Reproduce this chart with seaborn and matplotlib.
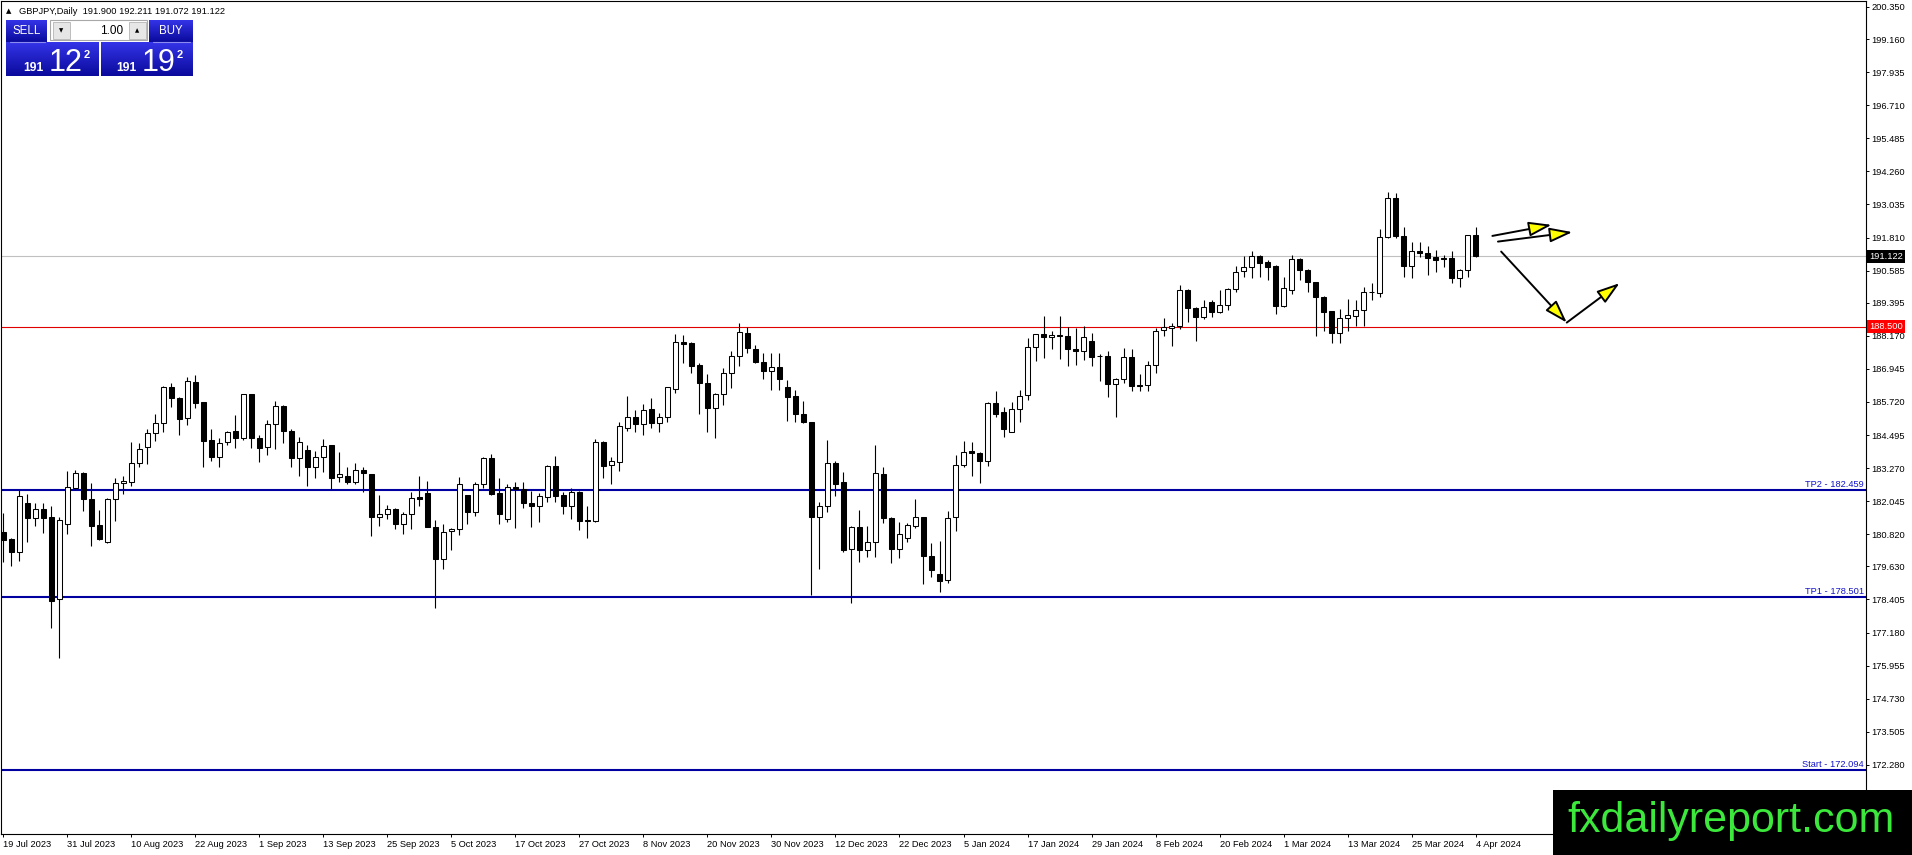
import numpy as np
import pandas as pd
import matplotlib
matplotlib.use("Agg")
import matplotlib.pyplot as plt
from matplotlib.patches import Rectangle
from matplotlib.colors import LinearSegmentedColormap
import seaborn as sns

# daily GBPJPY bars, 19 Jul 2023 .. 4 Apr 2024
opens = [
    180.92, 180.65, 180.18, 181.97, 181.44, 181.75, 181.45, 178.41, 181.19, 182.55,
    183.08, 182.12, 181.17, 180.55, 182.12, 182.71, 182.75, 183.45, 184.07, 184.56,
    184.93, 186.27, 185.86, 185.12, 186.45, 185.71, 184.32, 183.70, 184.22, 184.64,
    184.40, 186.01, 184.38, 184.07, 184.90, 185.57, 184.64, 183.66, 183.94, 183.33,
    183.67, 184.13, 182.93, 182.97, 182.75, 183.20, 183.04, 181.45, 181.56, 181.76,
    181.19, 181.56, 182.19, 182.34, 181.08, 179.90, 180.94, 181.01, 182.27, 181.66,
    182.67, 183.64, 182.34, 181.39, 182.56, 182.49, 181.97, 181.86, 182.19, 183.35,
    182.28, 181.88, 182.39, 181.34, 181.33, 184.22, 183.39, 183.51, 184.75, 185.18,
    184.90, 185.45, 184.93, 185.18, 186.20, 187.93, 187.91, 187.09, 186.41, 185.48,
    186.01, 186.78, 187.44, 188.27, 187.67, 187.19, 186.85, 187.03, 186.27, 185.95,
    185.27, 184.97, 181.45, 181.85, 183.45, 182.75, 180.27, 181.08, 180.24, 180.53,
    183.06, 181.43, 180.27, 180.70, 181.14, 181.45, 180.02, 179.35, 179.13, 181.45,
    183.39, 183.91, 183.82, 183.55, 185.67, 185.34, 184.62, 185.45, 185.96, 187.77,
    188.23, 188.12, 188.18, 188.17, 187.69, 187.60, 187.98, 187.44, 187.43, 186.38,
    186.56, 187.38, 186.35, 186.35, 187.09, 188.39, 188.45, 188.55, 189.85, 189.19,
    188.88, 189.44, 189.04, 189.32, 189.90, 190.57, 190.73, 191.13, 190.91, 190.76,
    189.29, 189.87, 191.02, 190.61, 190.15, 189.60, 189.09, 188.27, 188.82, 188.92,
    189.11, 189.81, 189.77, 191.82, 193.27, 191.87, 190.76, 191.32, 191.23, 191.08,
    191.04, 191.04, 190.30, 190.61, 191.900,
]
highs = [
    181.60, 180.67, 182.46, 182.32, 181.97, 181.97, 181.88, 181.45, 183.17, 183.20,
    183.11, 182.71, 181.72, 182.15, 182.90, 182.96, 184.22, 184.19, 184.71, 185.28,
    186.32, 186.41, 185.92, 186.66, 186.72, 185.71, 184.71, 184.38, 184.64, 185.24,
    186.01, 186.01, 184.50, 185.06, 185.76, 185.61, 184.71, 184.41, 184.13, 183.92,
    184.35, 184.13, 183.88, 183.30, 183.45, 183.33, 183.04, 182.28, 181.91, 181.81,
    181.64, 182.40, 182.98, 182.80, 181.34, 181.19, 181.04, 182.93, 182.27, 182.77,
    183.70, 183.78, 182.89, 182.69, 182.77, 182.77, 182.44, 182.34, 183.39, 183.72,
    182.40, 182.52, 182.43, 181.85, 184.35, 184.28, 183.70, 184.96, 185.95, 185.43,
    185.64, 185.86, 185.30, 186.27, 188.24, 188.20, 187.93, 187.15, 186.76, 186.04,
    186.97, 187.61, 188.64, 188.49, 187.83, 187.53, 187.53, 187.53, 186.54, 186.17,
    185.77, 184.99, 182.01, 184.32, 183.55, 183.12, 181.13, 181.72, 181.13, 184.13,
    183.33, 181.45, 181.27, 181.23, 182.13, 181.45, 180.49, 180.57, 181.69, 183.76,
    184.28, 184.22, 183.88, 185.73, 186.13, 185.55, 185.71, 186.17, 188.08, 188.23,
    188.91, 188.35, 188.91, 188.48, 188.45, 188.54, 188.27, 187.50, 187.59, 186.60,
    187.73, 187.69, 186.76, 187.24, 188.45, 188.82, 188.66, 190.06, 189.90, 189.25,
    189.50, 189.48, 189.87, 189.93, 190.77, 191.13, 191.32, 191.17, 190.98, 190.80,
    190.36, 191.17, 191.07, 190.65, 190.18, 189.65, 189.09, 189.15, 189.54, 189.50,
    189.99, 190.12, 192.12, 193.49, 193.45, 192.19, 191.66, 191.66, 191.48, 191.33,
    191.17, 191.32, 190.64, 191.90, 192.211,
]
lows = [
    179.81, 179.66, 179.83, 180.55, 181.11, 180.86, 177.36, 176.25, 180.82, 182.46,
    181.70, 180.40, 180.59, 180.51, 181.33, 182.32, 182.61, 183.33, 183.41, 184.29,
    184.62, 185.53, 184.51, 184.87, 185.49, 183.33, 183.55, 183.30, 184.12, 184.01,
    184.32, 184.03, 183.49, 183.76, 183.97, 184.19, 183.33, 182.99, 182.61, 182.89,
    183.14, 182.50, 182.75, 182.67, 182.67, 182.40, 180.77, 181.14, 181.39, 181.01,
    180.82, 181.01, 181.85, 181.08, 178.08, 179.52, 180.22, 180.80, 181.19, 181.48,
    182.52, 182.28, 181.20, 181.27, 181.04, 181.81, 181.10, 181.27, 182.03, 182.01,
    181.57, 181.38, 180.98, 180.70, 181.27, 182.89, 182.69, 183.18, 184.66, 184.59,
    184.48, 184.75, 184.59, 184.96, 186.04, 187.15, 186.78, 185.27, 184.59, 184.40,
    185.59, 186.25, 187.07, 187.55, 187.15, 186.57, 186.17, 186.17, 185.03, 184.99,
    184.93, 178.57, 179.53, 181.66, 182.22, 180.18, 178.29, 179.78, 179.97, 179.99,
    181.23, 179.75, 179.93, 180.53, 181.04, 178.97, 179.25, 178.67, 179.01, 180.96,
    183.30, 182.96, 182.71, 183.35, 185.18, 184.44, 184.60, 184.96, 185.80, 187.25,
    187.36, 187.70, 187.30, 187.07, 187.09, 187.28, 187.07, 186.48, 185.92, 185.18,
    186.41, 186.11, 186.14, 186.14, 186.81, 188.18, 187.80, 188.41, 188.70, 187.96,
    188.78, 188.85, 189.01, 189.11, 189.81, 190.36, 190.30, 190.33, 190.22, 188.98,
    189.25, 189.72, 190.24, 189.81, 188.18, 188.33, 187.92, 187.92, 188.35, 188.55,
    188.55, 189.48, 189.62, 191.81, 191.81, 190.33, 190.30, 191.08, 190.43, 190.55,
    190.73, 190.14, 189.99, 190.36, 191.072,
]
closes = [
    180.61, 180.18, 182.24, 181.44, 181.75, 181.44, 178.36, 181.34, 182.56, 183.08,
    182.12, 181.14, 180.65, 182.12, 182.71, 182.78, 183.45, 183.97, 184.56, 184.93,
    186.27, 185.86, 185.08, 186.49, 185.70, 184.29, 183.70, 184.19, 184.59, 184.40,
    186.01, 184.40, 184.03, 184.90, 185.57, 184.64, 183.66, 184.23, 183.33, 183.67,
    184.10, 182.92, 183.04, 182.75, 183.19, 183.08, 181.45, 181.56, 181.75, 181.19,
    181.56, 182.15, 182.14, 181.08, 179.90, 180.92, 181.01, 182.67, 181.66, 182.67,
    183.64, 182.31, 181.56, 182.56, 182.49, 181.97, 181.86, 182.24, 183.35, 182.25,
    181.88, 182.39, 181.33, 181.30, 184.24, 183.36, 183.55, 184.83, 185.18, 184.90,
    185.43, 184.93, 185.18, 186.27, 187.93, 187.88, 187.07, 186.41, 185.48, 186.01,
    186.78, 187.44, 188.30, 187.71, 187.19, 186.85, 187.03, 186.56, 185.92, 185.27,
    184.96, 181.45, 181.85, 183.45, 182.67, 180.24, 181.08, 180.24, 180.53, 183.08,
    181.41, 180.27, 180.82, 181.17, 181.45, 180.02, 179.48, 179.09, 181.41, 183.39,
    183.88, 183.82, 183.55, 185.67, 185.28, 184.72, 185.45, 185.94, 187.77, 188.23,
    188.12, 188.19, 188.19, 187.67, 187.60, 188.14, 187.40, 187.43, 186.38, 186.56,
    187.38, 186.33, 186.33, 187.09, 188.36, 188.49, 188.55, 189.85, 189.19, 188.86,
    189.23, 189.04, 189.32, 189.90, 190.53, 190.71, 191.13, 190.88, 190.73, 189.29,
    189.93, 191.02, 190.59, 190.15, 189.60, 189.07, 188.27, 188.82, 188.93, 189.13,
    189.78, 189.78, 191.82, 193.27, 191.85, 190.77, 191.32, 191.23, 191.04, 190.98,
    191.02, 190.30, 190.61, 191.90, 191.122,
]

date_labels = [
    "19 Jul 2023", "31 Jul 2023", "10 Aug 2023", "22 Aug 2023", "1 Sep 2023",
    "13 Sep 2023", "25 Sep 2023", "5 Oct 2023", "17 Oct 2023", "27 Oct 2023",
    "8 Nov 2023", "20 Nov 2023", "30 Nov 2023", "12 Dec 2023", "22 Dec 2023",
    "5 Jan 2024", "17 Jan 2024", "29 Jan 2024", "8 Feb 2024", "20 Feb 2024",
    "1 Mar 2024", "13 Mar 2024", "25 Mar 2024", "4 Apr 2024",
]
price_ticks = [
    200.350, 199.160, 197.935, 196.710, 195.485, 194.260, 193.035, 191.810,
    190.585, 189.395, 188.170, 186.945, 185.720, 184.495, 183.270, 182.045,
    180.820, 179.630, 178.405, 177.180, 175.955, 174.730, 173.505, 172.280,
]

symbol = "GBPJPY,Daily"
ask_price = 191.192
lot_size = "1.00"
level_price = 188.500
target_names = ["TP2", "TP1", "Start"]
target_prices = [182.459, 178.501, 172.094]

# hand drawn arrows: (bars after the last candle, price)
arrow_paths = [
    [(2.1, 191.87), (9.5, 192.28)],
    [(2.8, 191.66), (12.1, 192.01)],
    [(3.2, 191.29), (11.4, 188.66)],
    [(11.4, 188.66), (18.0, 190.12)],
]

sns.set_theme(style="white")
plt.rcParams["font.family"] = ["Liberation Sans", "DejaVu Sans"]

df = pd.DataFrame({"open": opens, "high": highs, "low": lows, "close": closes})
df["bar"] = np.arange(len(df))
df["bull"] = df["close"] >= df["open"]

W, H = 1912, 855
fig = plt.figure(figsize=(W / 100, H / 100), dpi=100)
ax = fig.add_axes([1 / W, 21 / H, 1865 / W, 833 / H])
ax.set_facecolor("white")

# candles
ax.vlines(df["bar"], df["low"], df["high"], color="black", lw=0.8, zorder=3)
ax.bar(df["bar"], (df["close"] - df["open"]).abs(),
       bottom=df[["open", "close"]].min(axis=1), width=0.6,
       color=np.where(df["bull"], "white", "black"), edgecolor="black",
       linewidth=0.75, zorder=4)

# levels
bid = closes[-1]
ax.axhline(bid, color="#c0c0c0", lw=0.8, zorder=1)
ax.axhline(level_price, color="#e00000", lw=0.8, zorder=1)
ytrans = ax.get_yaxis_transform()
for name, val in zip(target_names, target_prices):
    ax.axhline(val, color="#0000a0", lw=1.5, zorder=2)
    ax.annotate(f"{name} - {val:.3f}", xy=(1, val), xycoords=ytrans,
                xytext=(-1.5, 0.8), textcoords="offset points", ha="right",
                va="bottom", color="#1414c8", fontsize=6.7, zorder=5)

for fc, val in [("black", bid), ("#ff0000", level_price)]:
    ax.annotate(f"{val:.3f}", xy=(1, val), xycoords=ytrans, xytext=(2.2, 0),
                textcoords="offset points", ha="left", va="center",
                color="white", fontsize=6.7, annotation_clip=False, zorder=6,
                bbox=dict(boxstyle="square,pad=0.22", fc=fc, ec="none"))

last = df["bar"].iloc[-1]
for (x0, y0), (x1, y1) in arrow_paths:
    ax.annotate("", xy=(last + x1, y1), xytext=(last + x0, y0),
                arrowprops=dict(arrowstyle="-|>,head_length=1.4,head_width=0.45",
                                mutation_scale=10, fc="#ffff00", ec="black",
                                lw=1.4, shrinkA=0, shrinkB=0), zorder=6)

ax.set_xlim(-0.3, 232.8)
ax.set_ylim(169.72, 200.57)
ax.yaxis.tick_right()
ax.set_yticks(price_ticks)
ax.set_yticklabels([f"{v:.3f}" for v in price_ticks])
ax.set_xticks(df["bar"].iloc[::8])
ax.set_xticklabels(date_labels, ha="left")
ax.tick_params(axis="both", direction="out", length=2.5, width=0.7,
               colors="black", labelsize=6.7, pad=1.5)
ax.tick_params(axis="y", left=False, right=True)
ax.tick_params(axis="x", bottom=True)
ax.grid(False)
for sp in ax.spines.values():
    sp.set_color("black")
    sp.set_linewidth(0.8)

# overlay in pixel space: header, one-click panel, watermark
ov = fig.add_axes([0, 0, 1, 1], zorder=10)
ov.patch.set_alpha(0)
ov.axis("off")

ov.text(6, 11, "\u25b2", fontsize=5, va="center", ha="left", color="black",
        family="DejaVu Sans")
ov.text(19, 11, f"{symbol}  {opens[-1]:.3f} {highs[-1]:.3f} {lows[-1]:.3f} {closes[-1]:.3f}",
        fontsize=6.7, va="center", ha="left", color="black")

blue = LinearSegmentedColormap.from_list("btn", ["#3434e8", "#0a0a9c"])


def grad_box(x0, y0, x1, y1):
    ov.imshow(np.linspace(0, 1, 64)[:, None], extent=(x0, x1, y1, y0),
              cmap=blue, aspect="auto", interpolation="bilinear", zorder=1)


grad_box(6, 20, 47, 42)
grad_box(149, 20, 193, 42)
grad_box(6, 42, 99, 76)
grad_box(101, 42, 193, 76)
ov.plot([10, 45], [42, 42], color="#8c8cf0", lw=0.8, zorder=2)
ov.plot([153, 190], [42, 42], color="#8c8cf0", lw=0.8, zorder=2)
ov.add_patch(Rectangle((50, 20), 97, 20, fc="white", ec="#a8a8a8", lw=0.8, zorder=2))
for bx, glyph in [(53, "\u25bc"), (129, "\u25b2")]:
    ov.add_patch(Rectangle((bx, 22), 17, 17, fc="#e6e6e6", ec="#b4b4b4", lw=0.6, zorder=3))
    ov.text(bx + 8.5, 31, glyph, fontsize=4, ha="center", va="center",
            color="black", family="DejaVu Sans", zorder=4)
ov.text(123, 31, lot_size, fontsize=8.5, ha="right", va="center", color="black", zorder=4)
ov.text(27, 31.5, "SELL", fontsize=8.3, ha="center", va="center", color="white", zorder=4)
ov.text(171, 31.5, "BUY", fontsize=8.3, ha="center", va="center", color="white", zorder=4)

for price, cx in [(bid, 0), (ask_price, 93)]:
    s = f"{price:.3f}"
    ov.text(33 + cx, 71, s[:3], fontsize=8.7, fontweight="bold", ha="center",
            va="baseline", color="white", zorder=4)
    ov.text(66 + cx, 71, s[4:6], fontsize=22, ha="center", va="baseline",
            color="white", zorder=4)
    ov.text(87 + cx, 58, s[6], fontsize=8, fontweight="bold", ha="center",
            va="baseline", color="white", zorder=4)

ov.add_patch(Rectangle((1553, 790), 359, 65, fc="black", ec="none", zorder=5))
ov.text(1731, 821, "fxdailyreport.com", fontsize=31, ha="center", va="center",
        color="#3be83b", zorder=6)

ov.set_xlim(0, W)
ov.set_ylim(H, 0)

fig.savefig("out.png", dpi=100)
